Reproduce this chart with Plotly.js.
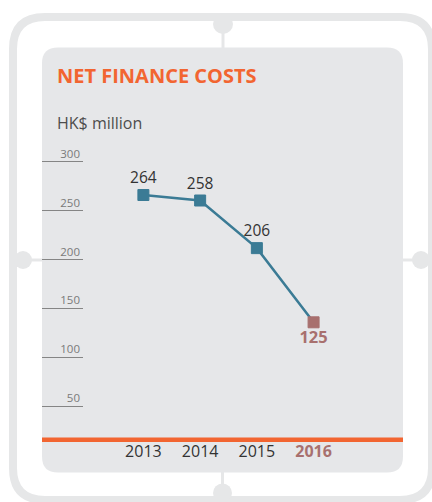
<!DOCTYPE html>
<html>
<head>
<meta charset="utf-8">
<script src="https://cdn.plot.ly/plotly-3.0.1.min.js"></script>
<style>
html,body{margin:0;padding:0;background:#fff;}
#chart{width:432px;height:502px;}
</style>
</head>
<body>
<div id="chart"></div>
<script>
// ---- data ----
const years = [2013, 2014, 2015, 2016];
const values = [264, 258, 206, 125];
const tickValues = [50, 100, 150, 200, 250, 300];
const tickLabels = ['50', '100', '150', '200', '250', '300'];
const chartTitle = 'NET FINANCE COSTS';
const unitLabel = 'HK$ million';

// ---- styling helpers ----
const W = 432, H = 502;
const X = p => p / W;
const Y = p => 1 - p / H;
const ORANGE = '#f26531';
const TEAL = '#3b7b95';
const ROSE = '#a8706e';
const FRAME = '#e6e7e8';
const PANEL = '#e6e7e9';

function roundRect(x0, y0, x1, y1, r) {
  const p = [];
  p.push('M' + X(x0 + r) + ',' + Y(y0));
  p.push('L' + X(x1 - r) + ',' + Y(y0));
  p.push('Q' + X(x1) + ',' + Y(y0) + ' ' + X(x1) + ',' + Y(y0 + r));
  p.push('L' + X(x1) + ',' + Y(y1 - r));
  p.push('Q' + X(x1) + ',' + Y(y1) + ' ' + X(x1 - r) + ',' + Y(y1));
  p.push('L' + X(x0 + r) + ',' + Y(y1));
  p.push('Q' + X(x0) + ',' + Y(y1) + ' ' + X(x0) + ',' + Y(y1 - r));
  p.push('L' + X(x0) + ',' + Y(y0 + r));
  p.push('Q' + X(x0) + ',' + Y(y0) + ' ' + X(x0 + r) + ',' + Y(y0));
  p.push('Z');
  return p.join(' ');
}
function circle(cx, cy, r, color) {
  return {type: 'circle', xref: 'paper', yref: 'paper', layer: 'below',
    x0: X(cx - r), x1: X(cx + r), y0: Y(cy + r), y1: Y(cy - r),
    fillcolor: color, line: {width: 0}};
}
function seg(x0, y0, x1, y1, color, w, layer) {
  return {type: 'line', xref: 'paper', yref: 'paper', layer: layer || 'below',
    x0: X(x0), x1: X(x1), y0: Y(y0), y1: Y(y1), line: {color: color, width: w}};
}

const last = values.length - 1;
const markerColors = values.map((v, i) => i === last ? ROSE : TEAL);
const textColors = values.map((v, i) => i === last ? ROSE : '#333333');
const textSizes = values.map((v, i) => i === last ? 16.5 : 15.5);
const textPos = values.map((v, i) => i === last ? 'bottom center' : 'top center');
const texts = values.map((v, i) => i === last ? '<b>' + v + '</b>' : String(v));
const yearText = years.map((y, i) => i === last ? '<b><span style="color:' + ROSE + '">' + y + '</span></b>' : String(y));

const trace = {
  x: years, y: values, type: 'scatter', mode: 'lines+markers+text',
  line: {color: TEAL, width: 2.5},
  marker: {symbol: 'square', size: 11, color: markerColors, line: {width: 1, color: markerColors}},
  text: texts, textposition: textPos,
  textfont: {family: 'Open Sans, sans-serif', color: textColors, size: textSizes},
  hoverinfo: 'none', cliponaxis: false, showlegend: false
};
// empty trace so the scale subplot (x2/y2) is created
const scaleTrace = {x: [], y: [], xaxis: 'x2', yaxis: 'y2', type: 'scatter', mode: 'lines',
  hoverinfo: 'none', showlegend: false};

const layout = {
  width: W, height: H,
  margin: {l: 0, r: 0, t: 0, b: 0},
  paper_bgcolor: '#ffffff', plot_bgcolor: 'rgba(0,0,0,0)',
  font: {family: 'Open Sans, sans-serif'},
  showlegend: false,
  xaxis: {domain: [X(42), X(403)], range: [2011.2126, 2017.576],
    tickvals: years, ticktext: yearText, showgrid: false, zeroline: false, showline: false,
    ticks: '', ticklabelstandoff: 3, tickfont: {size: 16, color: '#333333'}, fixedrange: true},
  yaxis: {domain: [Y(436.8), Y(47)], range: [0, 425.6], visible: false, fixedrange: true},
  xaxis2: {domain: [X(42), X(83)], range: [0, 1], visible: false, anchor: 'y2', fixedrange: true},
  yaxis2: {domain: [Y(454.8), Y(47)], range: [0, 417.8], anchor: 'x2', side: 'right',
    tickvals: tickValues, ticktext: tickLabels, ticklabelposition: 'inside top',
    showgrid: true, gridcolor: '#858585', gridwidth: 1, zeroline: false, showline: false,
    ticks: '', tickfont: {size: 11.5, color: '#7a7a7a'}, fixedrange: true},
  shapes: [
    {type: 'path', xref: 'paper', yref: 'paper', layer: 'below', path: roundRect(13, 17, 432, 500, 32),
      line: {color: FRAME, width: 8}, fillcolor: 'rgba(0,0,0,0)'},
    circle(223, 24, 10, FRAME),
    seg(223, 30, 223, 48, FRAME, 3),
    circle(23, 260, 9, FRAME),
    seg(28, 260, 42, 260, FRAME, 3),
    circle(421, 260, 9, FRAME),
    seg(402, 260, 415, 260, FRAME, 3),
    circle(222.5, 493, 9.5, FRAME),
    seg(222.5, 471, 222.5, 488, FRAME, 3),
    {type: 'path', xref: 'paper', yref: 'paper', layer: 'below', path: roundRect(42, 47.5, 403, 472.5, 16),
      line: {width: 0}, fillcolor: PANEL},
    seg(42, 439.7, 403, 439.7, ORANGE, 4.5, 'above')
  ],
  annotations: [
    {xref: 'paper', yref: 'paper', x: X(55), y: Y(75.5), xanchor: 'left', yanchor: 'middle',
      text: '<b>' + chartTitle + '</b>', showarrow: false, font: {size: 20, color: ORANGE}},
    {xref: 'paper', yref: 'paper', x: X(55), y: Y(123), xanchor: 'left', yanchor: 'middle',
      text: unitLabel, showarrow: false, font: {size: 16, color: '#4d4d4d'}}
  ]
};

Plotly.newPlot('chart', [trace, scaleTrace], layout, {displayModeBar: false, staticPlot: true});
</script>
</body>
</html>
